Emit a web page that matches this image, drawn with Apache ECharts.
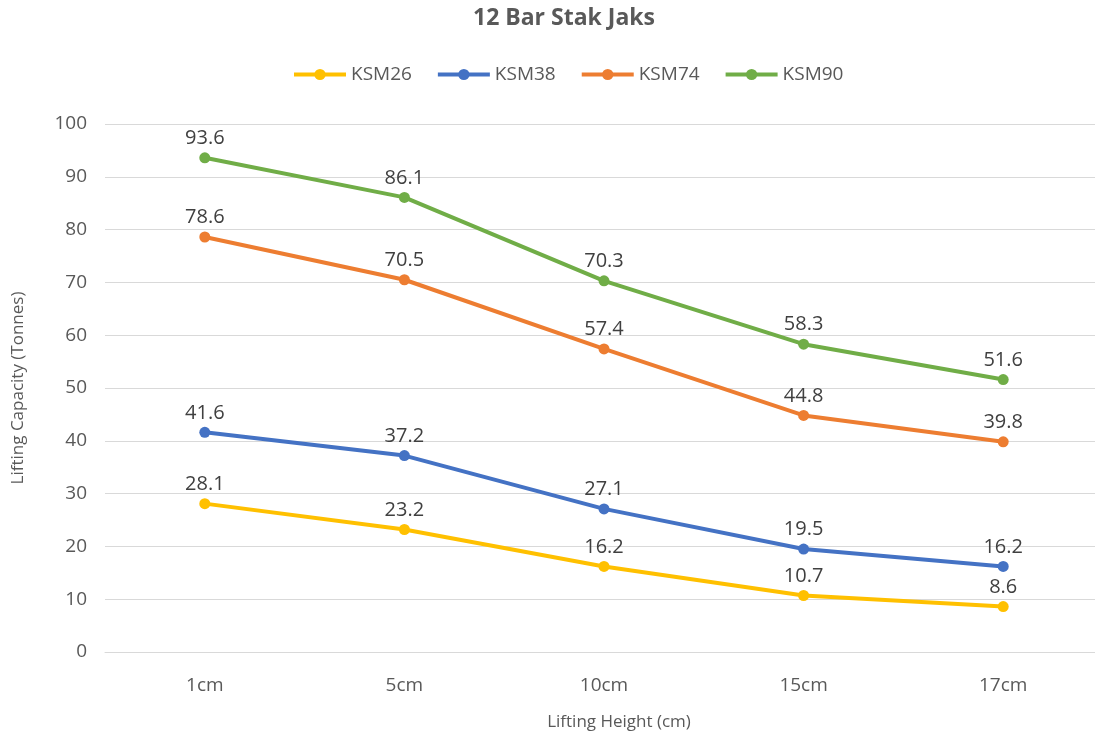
<!DOCTYPE html>
<html><head><meta charset="utf-8">
<script src="https://cdn.jsdelivr.net/npm/echarts@6/dist/echarts.min.js"></script>
<style>html,body{margin:0;padding:0;background:#fff;overflow:hidden}#c{width:1103px;height:738px}</style>
</head><body><div id="c"></div>
<script>
const categories = ['1cm', '5cm', '10cm', '15cm', '17cm'];
const ksm26 = [28.1, 23.2, 16.2, 10.7, 8.6];
const ksm38 = [41.6, 37.2, 27.1, 19.5, 16.2];
const ksm74 = [78.6, 70.5, 57.4, 44.8, 39.8];
const ksm90 = [93.6, 86.1, 70.3, 58.3, 51.6];
const seriesNames = ['KSM26', 'KSM38', 'KSM74', 'KSM90'];
const colors = ['#FFC000', '#4472C4', '#ED7D31', '#70AD47'];
const yTicks = { min: 0, max: 100, interval: 10 };

const font = 'Open Sans, Liberation Sans, sans-serif';
const chart = echarts.init(document.getElementById('c'));
const mk = (name, data, color) => ({
  name, type: 'line', data, color,
  symbol: 'circle', symbolSize: 11,
  lineStyle: { width: 4, color },
  itemStyle: { color },
  label: { show: true, position: 'top', distance: 4, color: '#404040', fontSize: 20, fontFamily: font }
});
chart.setOption({
  animation: false,
  title: { text: '12 Bar Stak Jaks', left: 468, top: 2,
    textStyle: { fontSize: 23, fontWeight: 'bold', color: '#595959', fontFamily: font } },
  legend: { top: 60, left: 287, itemWidth: 52, itemHeight: 14, itemGap: 24,
    lineStyle: { width: 4 },
    textStyle: { fontSize: 19, color: '#595959', fontFamily: font },
    data: seriesNames },
  grid: { left: 105, right: 0, top: 124, bottom: 86 },
  xAxis: { type: 'category', data: categories,
    name: 'Lifting Height (cm)', nameLocation: 'middle', nameGap: 62,
    nameTextStyle: { fontSize: 17, color: '#595959', fontFamily: font, padding: [0, 0, 0, 30] },
    axisLine: { lineStyle: { color: '#d9d9d9' } }, axisTick: { show: false },
    axisLabel: { fontSize: 19, color: '#595959', margin: 24, fontFamily: font } },
  yAxis: { type: 'value', min: yTicks.min, max: yTicks.max, interval: yTicks.interval,
    name: 'Lifting Capacity (Tonnes)', nameLocation: 'middle', nameGap: 78,
    nameTextStyle: { fontSize: 17, color: '#595959', fontFamily: font },
    axisLine: { show: false }, axisTick: { show: false },
    splitLine: { lineStyle: { color: '#d9d9d9' } },
    axisLabel: { fontSize: 19, color: '#595959', margin: 18, fontFamily: font } },
  series: [mk('KSM26', ksm26, colors[0]), mk('KSM38', ksm38, colors[1]),
           mk('KSM74', ksm74, colors[2]), mk('KSM90', ksm90, colors[3])]
});
</script></body></html>
